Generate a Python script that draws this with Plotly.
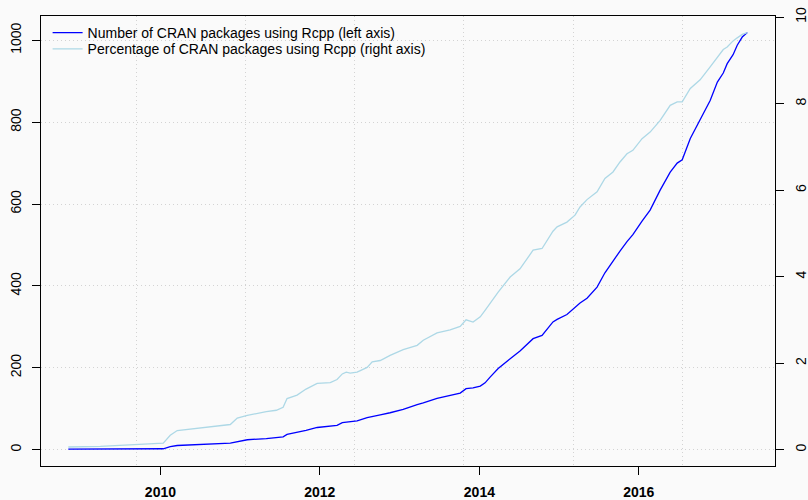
import plotly.graph_objects as go

dates = [
    "2008-11-05", "2009-04-01", "2010-01-14", "2010-02-15", "2010-03-19", "2010-11-17",
    "2010-12-19", "2011-02-03", "2011-05-01", "2011-06-16", "2011-07-17", "2011-08-04",
    "2011-09-19", "2011-10-30", "2011-12-20", "2012-02-18", "2012-03-20", "2012-04-13",
    "2012-05-01", "2012-05-19", "2012-06-20", "2012-08-05", "2012-08-28", "2012-10-04",
    "2012-11-18", "2013-01-17", "2013-03-22", "2013-04-19", "2013-06-21", "2013-08-20",
    "2013-10-05", "2013-11-01", "2013-12-03", "2014-01-05", "2014-01-27", "2014-02-19",
    "2014-03-28", "2014-05-22", "2014-07-06", "2014-09-04", "2014-10-15", "2014-12-04",
    "2014-12-23", "2015-02-06", "2015-03-15", "2015-04-07", "2015-05-09", "2015-06-24",
    "2015-07-30", "2015-09-05", "2015-10-07", "2015-11-08", "2015-12-05", "2016-01-16",
    "2016-02-22", "2016-04-08", "2016-05-24", "2016-06-25", "2016-07-18", "2016-08-24",
    "2016-10-08", "2016-11-23", "2016-12-26", "2017-01-22", "2017-02-09", "2017-03-08",
    "2017-03-27", "2017-04-19", "2017-05-12",
]

rcpp_count = [
    1, 1, 2, 7, 10, 16,
    20, 24, 27, 29, 31, 37,
    42, 47, 54, 57, 59, 66,
    67, 67, 70, 78, 80, 85,
    90, 98, 110, 114, 125, 132,
    138, 149, 151, 155, 163, 177,
    198, 222, 241, 271, 279, 312,
    318, 330, 348, 358, 370, 397,
    432, 462, 485, 508, 525, 558,
    585, 634, 678, 700, 708, 760,
    805, 853, 898, 920, 943, 965,
    988, 1008, 1019,
]

rcpp_pct = [
    0.06, 0.076, 0.15, 0.33, 0.44, 0.58,
    0.73, 0.79, 0.88, 0.91, 0.98, 1.18,
    1.26, 1.40, 1.53, 1.55, 1.62, 1.75,
    1.79, 1.77, 1.79, 1.90, 2.03, 2.06,
    2.18, 2.31, 2.41, 2.53, 2.70, 2.77,
    2.85, 3.00, 2.95, 3.07, 3.22, 3.38,
    3.64, 3.99, 4.18, 4.61, 4.65, 5.05,
    5.15, 5.26, 5.42, 5.61, 5.78, 5.96,
    6.27, 6.42, 6.65, 6.84, 6.92, 7.19,
    7.34, 7.61, 7.96, 8.04, 8.04, 8.35,
    8.55, 8.85, 9.06, 9.25, 9.31, 9.45,
    9.52, 9.60, 9.64,
]

year_ticks = ["2010-01-01", "2012-01-01", "2014-01-01", "2016-01-01"]
year_labels = ["2010", "2012", "2014", "2016"]
grid_dates = ["2009-09-13", "2011-01-26", "2012-06-09", "2013-10-22", "2015-03-06", "2016-07-18"]
left_ticks = [0, 200, 400, 600, 800, 1000]
right_ticks = [0, 2, 4, 6, 8, 10]

x_range = ["2008-07-03", "2017-09-16"]
left_range = [-40.1, 1059.4]
right_range = [-0.379, 10.025]

FONT = "Liberation Sans, Arial, Helvetica, sans-serif"
BG = "#fafafa"
GRID = "#d3d3d3"
DOT = "1px,3px"

fig = go.Figure()
fig.add_trace(go.Scatter(
    x=dates, y=rcpp_count, mode="lines",
    name="Number of CRAN packages using Rcpp (left axis)",
    line=dict(color="#0000ff", width=1.3),
    xaxis="x", yaxis="y", legend="legend",
))
fig.add_trace(go.Scatter(
    x=dates, y=rcpp_pct, mode="lines",
    name="Percentage of CRAN packages using Rcpp (right axis)",
    line=dict(color="#add8e6", width=1.3),
    xaxis="x2", yaxis="y2", legend="legend2",
))

legend_common = dict(
    xanchor="left", yanchor="middle",
    bgcolor="rgba(0,0,0,0)", borderwidth=0,
    font=dict(family=FONT, size=14, color="#000"),
    itemwidth=30,
)

fig.update_layout(
    width=808, height=500,
    margin=dict(l=41, r=33, t=16, b=34, autoexpand=False),
    paper_bgcolor=BG, plot_bgcolor=BG,
    font=dict(family=FONT, size=14, color="#000"),
    showlegend=True,
    legend=dict(x=0.009, y=0.962, **legend_common),
    legend2=dict(x=0.009, y=0.926, **legend_common),
    xaxis=dict(
        type="date", range=x_range, automargin=False,
        tickmode="array", tickvals=year_ticks, ticktext=year_labels,
        ticks="outside", ticklen=8, tickwidth=1, tickcolor="#000",
        tickfont=dict(family=FONT, size=14, color="#000", weight="bold"),
        showgrid=False, zeroline=False,
        showline=True, linecolor="#000", linewidth=1, mirror=True,
        ticklabelstandoff=5,
    ),
    xaxis2=dict(
        type="date", range=x_range, overlaying="x", anchor="y2", automargin=False,
        tickmode="array", tickvals=grid_dates,
        showticklabels=False, ticks="",
        showgrid=True, gridcolor=GRID, griddash=DOT, gridwidth=1,
        zeroline=False, showline=False,
    ),
    yaxis=dict(
        range=left_range, automargin=False,
        tickmode="array", tickvals=left_ticks, ticktext=[str(v) for v in left_ticks],
        tickangle=-90,
        ticks="outside", ticklen=8, tickwidth=1, tickcolor="#000",
        tickfont=dict(family=FONT, size=14, color="#000"),
        showgrid=True, gridcolor=GRID, griddash=DOT, gridwidth=1,
        zeroline=False,
        showline=True, linecolor="#000", linewidth=1, mirror=True,
        ticklabelstandoff=5,
    ),
    yaxis2=dict(
        range=right_range, overlaying="y", side="right", anchor="x2", automargin=False,
        tickmode="array", tickvals=right_ticks, ticktext=[str(v) for v in right_ticks],
        tickangle=-90,
        ticks="outside", ticklen=8, tickwidth=1, tickcolor="#000",
        tickfont=dict(family=FONT, size=14, color="#000"),
        showgrid=False, zeroline=False,
        showline=True, linecolor="#000", linewidth=1,
        ticklabelstandoff=5,
    ),
)

fig.write_html(
    "out.html",
    config={"displayModeBar": False},
    post_script=(
        "document.body.style.margin='0px';"
        "document.body.style.padding='0px';"
        "document.documentElement.style.overflow='hidden';"
        "document.body.style.background='" + BG + "';"
    ),
)
